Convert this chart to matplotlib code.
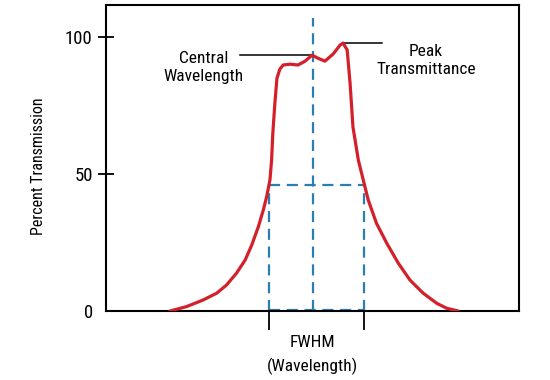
#!/usr/bin/env python3
"""Bandpass filter transmission curve with FWHM / central wavelength callouts."""
import matplotlib
matplotlib.use("Agg")
import matplotlib.pyplot as plt

# curve (arbitrary wavelength units, percent transmission)
wavelength = [15.5, 19.5, 23.5, 26.8, 29.2, 31.6, 33.7, 35.3, 36.9, 38.1,
              38.9, 39.7, 40.1, 40.4, 40.9, 41.4, 42.1, 42.9, 44.6, 46.5,
              48.2, 49.9, 51.3, 53.0, 55.0, 56.7, 57.4, 58.4, 59.1, 59.8,
              61.1, 62.3, 63.5, 65.5, 68.0, 70.8, 73.6, 76.8, 80.1, 82.5,
              85.3]
transmission = [0.0, 1.6, 4.0, 6.5, 9.5, 13.8, 18.6, 24.1, 30.8, 36.9,
                41.7, 47.8, 55.1, 65.0, 76.0, 85.0, 88.3, 89.8, 90.1, 89.8,
                91.2, 93.4, 92.3, 91.2, 93.8, 97.1, 97.8, 95.3, 83.2, 67.2,
                55.1, 47.8, 40.5, 32.0, 24.7, 17.4, 11.3, 6.5, 2.8, 1.0,
                0.0]

fwhm_edges = [39.5, 62.5]
center_wl = 50.1
half_level = 46.0
peak_wl, peak_val = 57.4, 97.8
center_val = 93.4

y_ticks = [0, 50, 100]

RED = "#d3202a"
BLUE = "#2b7fae"
FONT = ["Roboto Condensed", "Liberation Sans Narrow", "DejaVu Sans"]


def main() -> None:
    plt.rcParams.update({"font.family": FONT, "font.stretch": "condensed",
                         "figure.dpi": 100})

    fig = plt.figure(figsize=(5.5, 3.8))
    ax = fig.add_axes([0.1927, 0.1816, 0.7509, 0.8052])
    ax.set_xlim(0, 100)
    ax.set_ylim(0, 111.7)

    dash = dict(color=BLUE, lw=1.6, dashes=(5, 3))
    # FWHM box and central wavelength marker
    ax.plot([fwhm_edges[0]] * 2, [0, half_level], **dash)
    ax.plot([fwhm_edges[1]] * 2, [0, half_level], **dash)
    ax.plot(fwhm_edges, [half_level] * 2, **dash)
    ax.plot(fwhm_edges, [0.4, 0.4], **dash)
    ax.plot([center_wl] * 2, [0, 107.0], **dash)

    ax.plot(wavelength, transmission, color=RED, lw=2.3,
            solid_joinstyle="round", solid_capstyle="round", zorder=3)

    # callouts
    ax.plot([32.4, center_wl], [center_val, center_val], color="black", lw=1.1)
    ax.plot([peak_wl, 66.8], [peak_val, peak_val], color="black", lw=1.1)
    ax.text(23.7, 88.8, "Central\nWavelength", ha="center", va="center",
            fontsize=12.5, linespacing=1.25)
    ax.text(77.5, 91.5, "Peak\nTransmittance", ha="center", va="center",
            fontsize=12.5, linespacing=1.25)

    for s in ax.spines.values():
        s.set_linewidth(1.5)
    ax.set_yticks(y_ticks)
    ax.set_yticklabels([str(v) for v in y_ticks], fontsize=13.5)
    ax.tick_params(axis="y", direction="inout", length=11, width=1.3, pad=4)
    ax.yaxis.get_major_ticks()[0].tick1line.set_visible(False)

    ax.set_xticks(fwhm_edges)
    ax.set_xticklabels([])
    ax.tick_params(axis="x", direction="out", length=14, width=1.3)
    ax.set_xlabel("FWHM\n(Wavelength)", fontsize=12.5, linespacing=1.55)
    ax.xaxis.set_label_coords(0.5, -0.08)
    ax.set_ylabel("Percent Transmission", fontsize=11.5)
    ax.yaxis.set_label_coords(-0.145, 0.474)

    fig.savefig("out.png", dpi=100)


if __name__ == "__main__":
    main()
